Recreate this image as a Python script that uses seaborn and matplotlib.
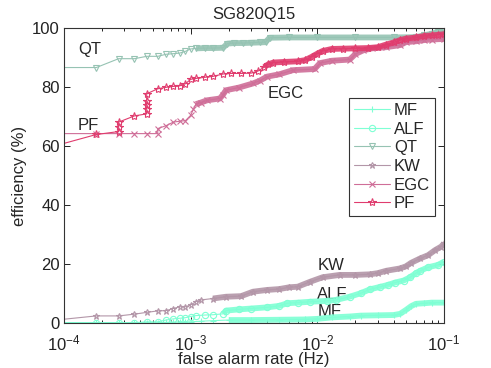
import numpy as np
import pandas as pd
import matplotlib
matplotlib.use("Agg")
import matplotlib.pyplot as plt
import seaborn as sns
from matplotlib.ticker import LogLocator, NullFormatter

# ---------------- data ----------------
names = ["MF", "ALF", "QT", "KW", "EGC", "PF"]

mf_far = [9.1e-5, 1.8e-4, 2.7e-4, 3.6e-4, 4.5e-4, 5.5e-4, 6.4e-4, 7.3e-4, 8.2e-4, 9.1e-4,
          1.0e-3, 1.2e-3, 1.5e-3, 2e-3, 3e-3, 5e-3, 8e-3, 1.0e-2, 1.3e-2, 1.8e-2,
          2.2e-2, 3e-2, 4e-2, 4.5e-2, 5e-2, 5.5e-2, 6e-2, 7e-2, 8e-2, 1e-1]
mf_eff = [0.2, 0.2, 0.2, 0.2, 0.2, 0.2, 0.3, 0.4, 0.5, 0.5,
          0.5, 0.7, 0.9, 1.1, 1.1, 1.2, 1.3, 1.5, 2.0, 2.3,
          2.6, 2.7, 2.8, 3.2, 4.5, 5.8, 6.6, 6.8, 7.0, 7.0]

alf_far = [9.1e-5, 1.8e-4, 2.7e-4, 3.6e-4, 4.5e-4, 5.5e-4, 6.4e-4, 7.3e-4, 8.2e-4, 9.1e-4,
           1.0e-3, 1.1e-3, 1.3e-3, 1.5e-3, 1.8e-3, 1.9e-3, 2.4e-3, 3e-3, 4e-3, 5e-3,
           5.8e-3, 7e-3, 8.8e-3, 1.2e-2, 1.4e-2, 1.8e-2, 2.2e-2, 2.6e-2, 3.1e-2, 3.6e-2,
           4.1e-2, 4.8e-2, 5.4e-2, 6e-2, 6.5e-2, 7.5e-2, 9e-2, 1e-1]
alf_eff = [0.2, 0.2, 0.2, 0.2, 0.5, 0.5, 1.1, 1.5, 1.7, 1.9,
           2.3, 2.6, 2.8, 2.9, 3.2, 4.3, 4.7, 5.0, 5.4, 5.9,
           6.8, 7.0, 7.3, 7.6, 7.9, 9.0, 10.2, 11.5, 12.3, 13.0,
           13.8, 14.5, 15.6, 17.0, 17.8, 19.0, 19.8, 20.9]

qt_far = [9.1e-5, 1.8e-4, 2.7e-4, 3.6e-4, 4.5e-4, 5.5e-4, 6.4e-4, 7.3e-4, 8.2e-4, 9.1e-4,
          1.0e-3, 1.1e-3, 1.3e-3, 1.5e-3, 1.8e-3, 1.95e-3, 2.2e-3, 2.6e-3, 3.0e-3, 3.5e-3,
          3.9e-3, 4.2e-3, 6e-3, 1e-2, 2e-2, 4e-2, 6e-2, 7e-2, 8e-2, 9e-2, 1e-1]
qt_eff = [86.7, 86.7, 89.7, 89.7, 90.5, 90.5, 91.2, 91.4, 91.6, 92.2,
          93.0, 93.2, 93.3, 93.3, 93.4, 94.8, 95.0, 95.0, 95.1, 95.2,
          95.3, 96.8, 96.9, 96.9, 96.9, 96.9, 97.0, 97.6, 98.2, 98.8, 99.0]

kw_far = [9.1e-5, 1.8e-4, 2.7e-4, 3.6e-4, 4.5e-4, 5.5e-4, 6.4e-4, 7.3e-4, 8.2e-4, 9.1e-4,
          1.0e-3, 1.1e-3, 1.2e-3, 1.5e-3, 1.9e-3, 2.5e-3, 3.1e-3, 4e-3, 5e-3, 6e-3,
          7e-3, 8.8e-3, 1.1e-2, 1.5e-2, 2e-2, 2.6e-2, 3e-2, 3.5e-2, 4.5e-2, 5e-2,
          5.5e-2, 6.5e-2, 7.5e-2, 8.5e-2, 9.5e-2, 1e-1]
kw_eff = [1.2, 2.5, 2.5, 3.1, 3.7, 4.2, 4.3, 5.0, 5.6, 5.6,
          6.2, 7.3, 7.9, 8.4, 9.0, 9.2, 10.7, 11.3, 11.6, 12.2,
          12.4, 14.1, 15.6, 16.4, 16.4, 16.6, 17.0, 17.8, 18.6, 19.3,
          20.5, 22.0, 23.1, 24.8, 26.0, 27.1]

egc_far = [9.1e-5, 1.8e-4, 2.7e-4, 3.6e-4, 4.5e-4, 5.5e-4, 5.5e-4, 6.4e-4, 7.3e-4, 8.2e-4,
           9.1e-4, 1.0e-3, 1.05e-3, 1.1e-3, 1.2e-3, 1.35e-3, 1.7e-3, 1.8e-3, 1.9e-3, 2.4e-3,
           3.1e-3, 3.5e-3, 4e-3, 5e-3, 6.4e-3, 9.5e-3, 1.05e-2, 1.3e-2, 1.8e-2, 2.0e-2,
           2.3e-2, 2.7e-2, 3.5e-2, 4.5e-2, 5e-2, 6e-2, 7e-2, 8e-2, 1e-1]
egc_eff = [64.3, 64.3, 64.3, 64.3, 64.3, 64.3, 66.0, 67.0, 68.2, 68.5,
           68.7, 70.5, 72.5, 74.3, 74.8, 75.6, 76.2, 77.5, 79.0, 79.9,
           81.3, 82.2, 83.6, 84.4, 85.8, 86.2, 88.2, 89.0, 89.4, 91.3,
           92.5, 93.2, 93.6, 94.3, 95.3, 95.6, 96.0, 96.2, 96.4]

pf_far = [9.1e-5, 1.8e-4, 2.7e-4, 2.7e-4, 2.7e-4, 3.6e-4, 4.5e-4, 4.5e-4, 4.5e-4, 4.5e-4,
          4.5e-4, 5.5e-4, 6.4e-4, 7.3e-4, 8.2e-4, 9.1e-4, 1.0e-3, 1.1e-3, 1.3e-3, 1.5e-3,
          1.8e-3, 2.1e-3, 2.5e-3, 3.0e-3, 3.4e-3, 3.8e-3, 4.1e-3, 4.5e-3, 5.5e-3, 7e-3,
          8e-3, 9e-3, 1.0e-2, 1.1e-2, 1.3e-2, 1.6e-2, 2e-2, 2.5e-2, 3e-2, 3.5e-2,
          4e-2, 4.5e-2, 5e-2, 6e-2, 7e-2, 8e-2, 9e-2, 1e-1]
pf_eff = [60.5, 64.0, 65.0, 66.5, 68.2, 70.3, 71.0, 72.5, 74.0, 75.5,
          77.8, 79.5, 80.0, 80.3, 80.5, 81.2, 82.7, 83.0, 83.4, 83.7,
          84.5, 84.7, 84.7, 84.8, 85.5, 86.8, 87.8, 88.4, 88.6, 88.8,
          89.2, 90.3, 91.4, 92.3, 93.0, 93.1, 93.2, 93.3, 93.6, 94.5,
          95.2, 96.0, 96.5, 96.9, 97.4, 97.6, 97.8, 98.0]

series_far = [mf_far, alf_far, qt_far, kw_far, egc_far, pf_far]
series_eff = [mf_eff, alf_eff, qt_eff, kw_eff, egc_eff, pf_eff]

# ---------------- style ----------------
colors = ["#7fffd4", "#7fffd4", "#96c3b3", "#b396a8", "#cf6e98", "#e03c6e"]
markers = ["+", "o", "v", "*", "x", "*"]
msizes = [5, 4.5, 5, 5, 4, 6]
band_start = [2e-3, 1.6e-3, 1.1e-3, 1.3e-3, 1.1e-3, 3.5e-3]

sns.set_style("ticks")
plt.rcParams["font.family"] = ["Liberation Sans", "DejaVu Sans"]
plt.rcParams["mathtext.fontset"] = "custom"
plt.rcParams["mathtext.rm"] = "Liberation Sans"
plt.rcParams["mathtext.it"] = "Liberation Sans:italic"

FS = 12

fig = plt.figure(figsize=(4.91, 3.68), dpi=100)
ax = fig.add_axes([0.1303, 0.1215, 0.774, 0.8016])

for name, far, eff, c, m, ms, b0 in zip(names, series_far, series_eff, colors,
                                        markers, msizes, band_start):
    df = pd.DataFrame({"far": far, "eff": eff})
    dense = df[df["far"] >= b0]
    sns.lineplot(data=dense, x="far", y="eff", sort=False, estimator=None,
                 color=c, linewidth=4.2, alpha=0.9, ax=ax, legend=False,
                 solid_capstyle="butt")
    sns.lineplot(data=df, x="far", y="eff", sort=False, estimator=None,
                 color=c, linewidth=0.8, marker=m, markersize=ms,
                 markerfacecolor="none", markeredgecolor=c,
                 markeredgewidth=0.8, label=name, ax=ax)

ax.set_xscale("log")
ax.set_xlim(1e-4, 1e-1)
ax.set_ylim(0, 100)
ax.set_yticks([0, 20, 40, 60, 80, 100])
ax.xaxis.set_major_locator(LogLocator(base=10, numticks=10))
ax.xaxis.set_minor_locator(LogLocator(base=10, subs=np.arange(2, 10), numticks=100))
ax.xaxis.set_minor_formatter(NullFormatter())

ax.tick_params(which="both", direction="in", top=True, right=True,
               labelsize=FS, colors="#222222", width=0.7)
ax.tick_params(which="major", length=4)
ax.tick_params(axis="x", which="major", pad=7)
ax.tick_params(axis="y", which="major", pad=3)
ax.tick_params(which="minor", length=2)
for s in ax.spines.values():
    s.set_linewidth(0.8)
    s.set_color("#333333")
    s.set_visible(True)

ax.set_xlabel("false alarm rate (Hz)", fontsize=FS, labelpad=-1)
ax.set_ylabel("efficiency (%)", fontsize=FS, labelpad=4)
ax.set_title("SG820Q15", fontsize=FS, pad=7)

ax.text(1.29e-4, 92.8, "QT", fontsize=FS, va="center", zorder=1)
ax.text(1.29e-4, 66.9, "PF", fontsize=FS, va="center", zorder=1)
ax.text(4.03e-3, 77.9, "EGC", fontsize=FS, va="center", zorder=1)
ax.text(1.0e-2, 19.7, "KW", fontsize=FS, va="center", zorder=1)
ax.text(1.0e-2, 9.9, "ALF", fontsize=FS, va="center", zorder=1)
ax.text(1.0e-2, 3.9, "MF", fontsize=FS, va="center", zorder=1)

leg = ax.legend(loc="upper right", bbox_to_anchor=(0.976, 0.764), frameon=True,
                fancybox=False, edgecolor="#333333", framealpha=1, fontsize=FS,
                handlelength=2.2, handletextpad=0.2, labelspacing=0.22,
                borderpad=0.3, numpoints=1, borderaxespad=0)
leg.get_frame().set_linewidth(0.8)

fig.savefig("out.png", dpi=100)
